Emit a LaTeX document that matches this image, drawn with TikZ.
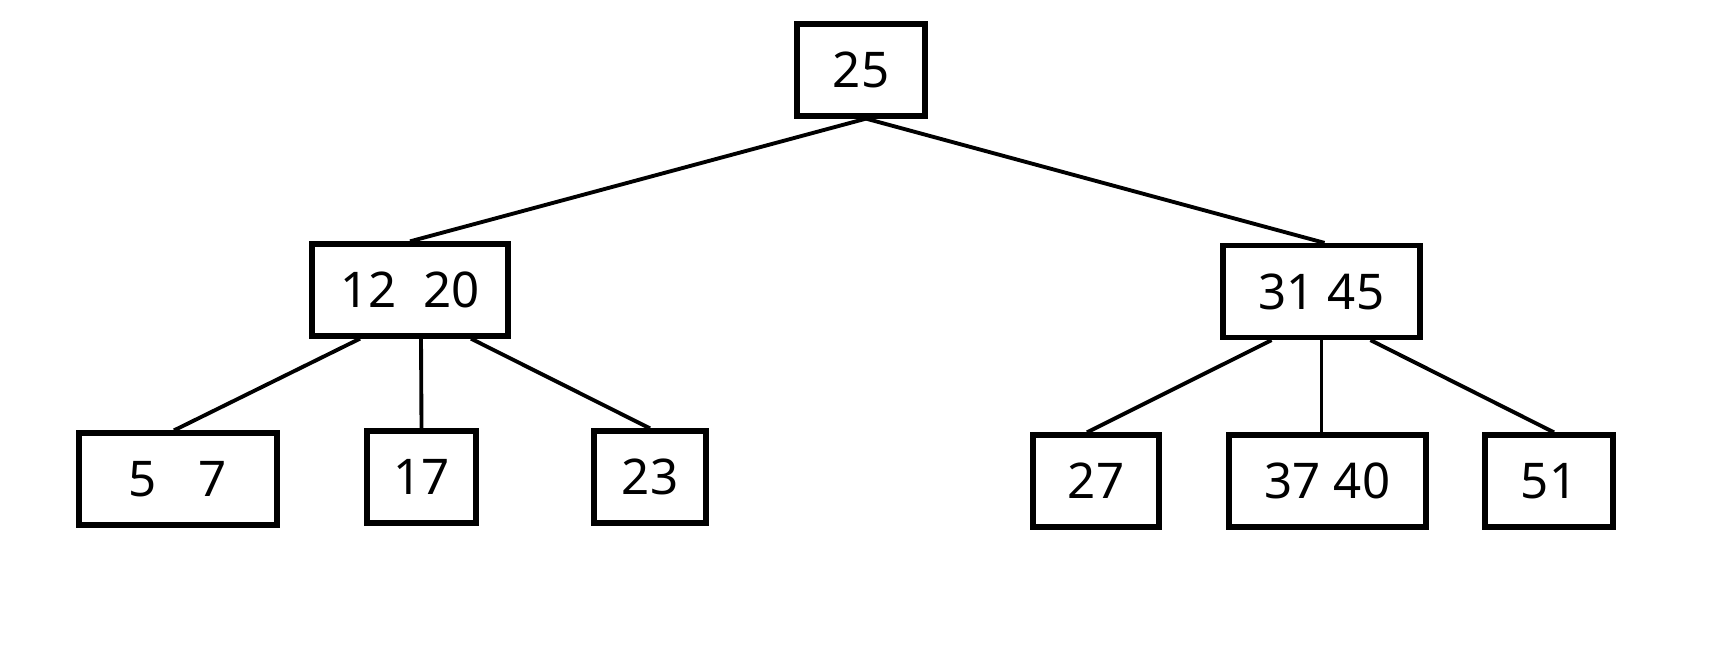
\documentclass[tikz,border=0pt]{standalone}
\usepackage{fontspec}
\setmainfont{Noto Sans}
\begin{document}
\begin{tikzpicture}[
        key/.style={rectangle, draw, line width=1.5pt, inner sep=0pt, minimum height=0.92cm, font=\fontsize{14pt}{16pt}\selectfont},
        link/.style={line width=1.1pt},
    ]
        \useasboundingbox (0,0) rectangle (17.1,-6.6);

        % Root
        \node[key, minimum width=1.28cm] (root) at (8.61, -0.70) {25};

        % Second level
        \node[key, minimum width=1.96cm] (k1220) at (4.10, -2.90) {12\hspace{0.55em}20};
        \node[key, minimum width=1.97cm] (k3145) at (13.215, -2.915) {31 45};

        % Leaves
        \node[key, minimum width=1.98cm] (k57) at (1.78, -4.79) {5\hspace{0.85em}7};
        \node[key, minimum width=1.09cm] (k17) at (4.215, -4.77) {17};
        \node[key, minimum width=1.12cm] (k23) at (6.50, -4.77) {23};
        \node[key, minimum width=1.26cm] (k27) at (10.96, -4.81) {27};
        \node[key, minimum width=1.97cm] (k3740) at (13.275, -4.81) {37 40};
        \node[key, minimum width=1.28cm] (k51) at (15.49, -4.81) {51};

        % Links
        \draw[link] ([xshift=0.05cm]root.south) -- (k1220.north);
        \draw[link] ([xshift=0.05cm]root.south) -- ([xshift=0.03cm]k3145.north);
        \draw[link] ([xshift=-0.50cm]k1220.south) -- ([xshift=-0.04cm]k57.north);
        \draw[link] ([xshift=0.11cm]k1220.south) -- (k17.north);
        \draw[link] ([xshift=0.61cm]k1220.south) -- (k23.north);
        \draw[link] ([xshift=-0.50cm]k3145.south) -- ([xshift=-0.09cm]k27.north);
        \draw[link] (k3145.south) -- (k3145.south |- k3740.north);
        \draw[link] ([xshift=0.49cm]k3145.south) -- ([xshift=0.05cm]k51.north);

    \end{tikzpicture}
\end{document}
